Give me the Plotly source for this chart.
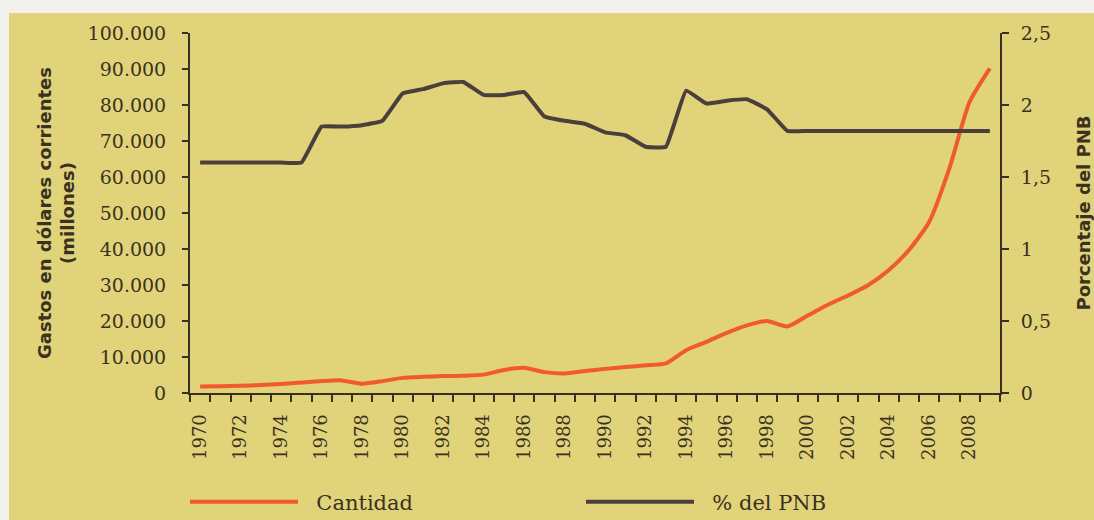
import plotly.graph_objects as go

years = list(range(1970, 2010))

cantidad = [1800, 1900, 2000, 2200, 2500, 2900, 3300, 3500, 2600, 3300,
            4200, 4500, 4700, 4800, 5100, 6400, 7000, 5800, 5400, 6100,
            6700, 7200, 7700, 8200, 11900, 14200, 16700, 18800, 20000, 18500,
            21500, 24500, 27100, 30000, 34100, 39700, 47500, 62400, 80900, 90200]

pct_pnb = [1.6, 1.6, 1.6, 1.6, 1.6, 1.6, 1.85, 1.85, 1.86, 1.89,
           2.08, 2.11, 2.15, 2.16, 2.07, 2.07, 2.09, 1.92, 1.89, 1.87,
           1.81, 1.79, 1.71, 1.71, 2.10, 2.01, 2.03, 2.04, 1.97, 1.82,
           1.82, 1.82, 1.82, 1.82, 1.82, 1.82, 1.82, 1.82, 1.82, 1.82]

left_tickvals = [0, 10000, 20000, 30000, 40000, 50000, 60000, 70000, 80000, 90000, 100000]
left_ticktext = ["0", "10.000", "20.000", "30.000", "40.000", "50.000",
                 "60.000", "70.000", "80.000", "90.000", "100.000"]
right_tickvals = [0, 0.5, 1, 1.5, 2, 2.5]
right_ticktext = ["0", "0,5", "1", "1,5", "2", "2,5"]
x_tickvals = list(range(1970, 2010, 2))

BG = "#e1d37a"
STRIP = "#f1f0ec"
TXT = "#3a3120"
AX = "#3a3020"
ORANGE = "#f15a29"
DARK = "#4b3f3d"

W, H = 1094, 520
L, R, T, B = 190, 94, 33, 127
pw, ph = W - L - R, H - T - B


def px_x(p):
    return (p - L) / pw


def px_y(p):
    return (H - B - p) / ph


NB = "\u00a0\u00a0"

fig = go.Figure()
fig.add_trace(go.Scatter(
    x=years, y=cantidad, name=NB + "Cantidad", mode="lines",
    line=dict(color=ORANGE, width=4, shape="spline", smoothing=0.6),
    yaxis="y",
))
fig.add_trace(go.Scatter(
    x=years, y=pct_pnb, name=NB + "% del PNB", mode="lines",
    line=dict(color=DARK, width=4, shape="spline", smoothing=0.3),
    yaxis="y2",
))

tick_font = dict(family="DejaVu Serif", size=19, color=TXT)

fig.update_layout(
    width=W, height=H,
    margin=dict(l=L, r=R, t=T, b=B, pad=0, autoexpand=False),
    paper_bgcolor=BG, plot_bgcolor=BG,
    showlegend=True,
    legend=dict(
        orientation="h", x=px_x(185), xanchor="left", y=px_y(502), yanchor="middle",
        font=dict(family="DejaVu Serif", size=21, color=TXT),
        itemwidth=108, entrywidthmode="pixels", entrywidth=273,
        bgcolor="rgba(0,0,0,0)",
    ),
    xaxis=dict(
        range=[1969.5, 2009.5], tickmode="array", tickvals=x_tickvals,
        ticktext=[str(v) for v in x_tickvals], tickangle=-90,
        ticks="", showgrid=False, zeroline=False,
        showline=True, linecolor=AX, linewidth=2,
        tickfont=dict(family="DejaVu Serif", size=18, color=TXT),
        ticklabelstandoff=12,
        minor=dict(tickmode="linear", tick0=1969.5, dtick=1, ticks="outside",
                   ticklen=7, tickwidth=2, tickcolor=AX, showgrid=False),
    ),
    yaxis=dict(
        range=[0, 100000], tickmode="array", tickvals=left_tickvals, ticktext=left_ticktext,
        ticks="outside", ticklen=6, tickwidth=2, tickcolor=AX,
        showgrid=False, zeroline=False, showline=True, linecolor=AX, linewidth=2,
        tickfont=tick_font, ticklabelstandoff=12,
        title=dict(text="Gastos en dólares corrientes<br>(millones)",
                   font=dict(family="DejaVu Sans", size=18, color=TXT, weight="bold"),
                   standoff=8),
    ),
    yaxis2=dict(
        range=[0, 2.5], overlaying="y", side="right", anchor="x",
        tickmode="array", tickvals=right_tickvals, ticktext=right_ticktext,
        ticks="outside", ticklen=7, tickwidth=2, tickcolor=AX,
        showgrid=False, zeroline=False, showline=True, linecolor=AX, linewidth=2,
        tickfont=tick_font, ticklabelstandoff=8,
        title=dict(text="Porcentaje del PNB",
                   font=dict(family="DejaVu Sans", size=18, color=TXT, weight="bold"),
                   standoff=28),
    ),
    shapes=[
        dict(type="rect", xref="paper", yref="paper", x0=px_x(-5), x1=px_x(W + 5),
             y0=px_y(13), y1=px_y(-5), fillcolor=STRIP, line=dict(width=0), layer="above"),
        dict(type="rect", xref="paper", yref="paper", x0=px_x(-5), x1=px_x(9),
             y0=px_y(H + 5), y1=px_y(13), fillcolor=STRIP, line=dict(width=0), layer="above"),
    ],
)

fig.write_html("out.html", config={"displayModeBar": False},
               post_script="document.body.style.margin='0px';")
